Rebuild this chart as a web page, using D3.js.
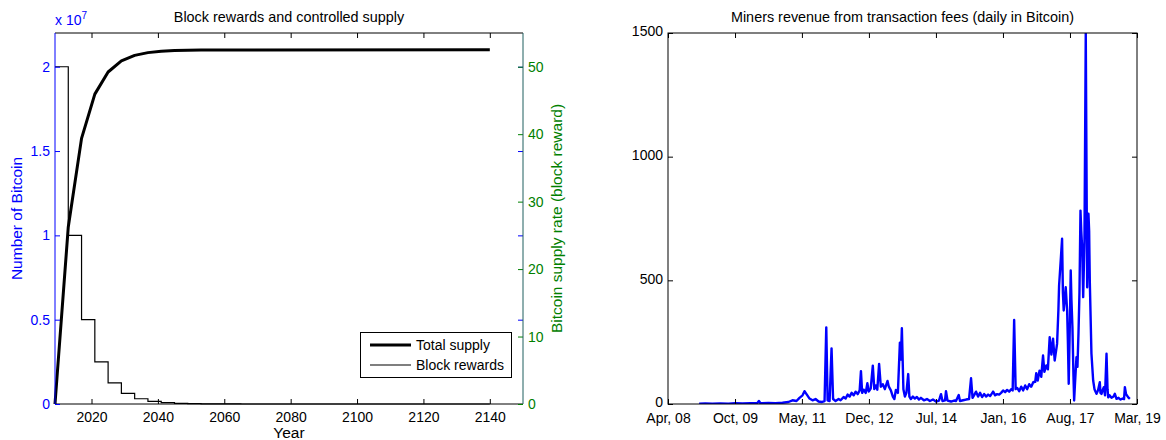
<!DOCTYPE html>
<html><head><meta charset="utf-8">
<script src="https://cdn.jsdelivr.net/npm/d3@7"></script>
<style>body{margin:0;background:#fff;} text{font-family:"Liberation Sans",Arial,Helvetica,sans-serif;}</style>
</head><body><svg id="c" width="1166" height="440"></svg>
<script>
// ---------- Left chart data ----------
const supplyYears = [2009, 2013, 2017, 2021, 2025, 2029, 2033, 2037, 2041, 2045, 2049, 2053, 2057, 2061, 2065, 2140];
const totalSupply = [0, 10500000, 15750000, 18375000, 19687500, 20343750, 20671875, 20835937.5, 20917968.75, 20958984.38, 20979492.19, 20989746.09, 20994873.05, 20997436.52, 20998718.26, 21000000];
const rewardYears = [2009, 2013, 2017, 2021, 2025, 2029, 2033, 2037, 2041, 2045, 2049, 2053, 2057, 2061, 2065, 2140];
const blockRewards = [50, 25, 12.5, 6.25, 3.125, 1.5625, 0.78125, 0.390625, 0.1953125, 0.09765625, 0.048828125, 0.0244140625, 0.01220703125, 0.006103515625, 0.0030517578125, 0.0030517578125];
const yearTicks = [2020, 2040, 2060, 2080, 2100, 2120, 2140];
const supplyTicks = [0, 5000000, 10000000, 15000000, 20000000];
const supplyTickLabels = ["0", "0.5", "1", "1.5", "2"];
const rateTicks = [0, 10, 20, 30, 40, 50];

// ---------- Right chart data ----------
const feeYears = [2008.977, 2009.117, 2009.282, 2009.469, 2009.657, 2009.821, 2009.985, 2010.172, 2010.337, 2010.372, 2010.407, 2010.594, 2010.759, 2010.923, 2011.063, 2011.157, 2011.251, 2011.321, 2011.392, 2011.438, 2011.485, 2011.556, 2011.626, 2011.696, 2011.767, 2011.837, 2011.907, 2011.947, 2011.978, 2012.025, 2012.071, 2012.107, 2012.165, 2012.236, 2012.282, 2012.353, 2012.400, 2012.447, 2012.493, 2012.540, 2012.587, 2012.634, 2012.681, 2012.728, 2012.758, 2012.786, 2012.822, 2012.869, 2012.908, 2012.939, 2012.986, 2013.033, 2013.068, 2013.103, 2013.138, 2013.180, 2013.220, 2013.267, 2013.314, 2013.377, 2013.408, 2013.455, 2013.501, 2013.537, 2013.572, 2013.619, 2013.666, 2013.689, 2013.712, 2013.748, 2013.783, 2013.818, 2013.860, 2013.888, 2013.923, 2013.970, 2014.017, 2014.064, 2014.111, 2014.158, 2014.228, 2014.299, 2014.369, 2014.439, 2014.510, 2014.580, 2014.627, 2014.662, 2014.721, 2014.744, 2014.779, 2014.861, 2014.932, 2014.978, 2015.042, 2015.072, 2015.143, 2015.213, 2015.283, 2015.330, 2015.365, 2015.400, 2015.447, 2015.494, 2015.541, 2015.588, 2015.635, 2015.682, 2015.729, 2015.776, 2015.846, 2015.893, 2015.940, 2015.987, 2016.033, 2016.080, 2016.127, 2016.174, 2016.221, 2016.268, 2016.303, 2016.338, 2016.373, 2016.409, 2016.455, 2016.502, 2016.549, 2016.596, 2016.643, 2016.690, 2016.737, 2016.784, 2016.831, 2016.854, 2016.889, 2016.931, 2016.971, 2017.011, 2017.042, 2017.088, 2017.124, 2017.166, 2017.206, 2017.245, 2017.283, 2017.339, 2017.370, 2017.386, 2017.424, 2017.456, 2017.475, 2017.494, 2017.541, 2017.574, 2017.592, 2017.611, 2017.635, 2017.658, 2017.675, 2017.698, 2017.721, 2017.738, 2017.757, 2017.792, 2017.815, 2017.839, 2017.862, 2017.886, 2017.904, 2017.925, 2017.949, 2017.979, 2018.010, 2018.043, 2018.073, 2018.089, 2018.104, 2018.143, 2018.183, 2018.214, 2018.261, 2018.296, 2018.338, 2018.354, 2018.378, 2018.401, 2018.432, 2018.460, 2018.495, 2018.519, 2018.535, 2018.565, 2018.612, 2018.659, 2018.690, 2018.729, 2018.776, 2018.823, 2018.870, 2018.905, 2018.924, 2018.952, 2019.004, 2019.041];
const feeValues = [1, 2, 1, 2, 1, 3, 2, 3, 4, 12, 3, 4, 3, 5, 8, 15, 12, 25, 35, 52, 40, 22, 15, 20, 10, 8, 12, 310, 15, 12, 225, 20, 12, 20, 15, 28, 22, 38, 30, 45, 35, 50, 40, 55, 133, 45, 58, 45, 84, 50, 62, 155, 60, 75, 58, 162, 70, 80, 60, 93, 70, 55, 30, 20, 57, 45, 248, 180, 306, 60, 30, 45, 121, 30, 20, 30, 22, 28, 18, 25, 15, 20, 12, 18, 10, 14, 40, 12, 15, 52, 14, 10, 14, 12, 36, 12, 15, 18, 20, 104, 25, 35, 50, 30, 45, 28, 40, 30, 38, 32, 50, 35, 40, 38, 45, 55, 48, 57, 50, 60, 55, 340, 60, 65, 52, 70, 55, 75, 60, 80, 70, 88, 90, 125, 95, 135, 110, 196, 130, 156, 140, 270, 200, 264, 176, 243, 380, 479, 580, 668, 450, 378, 472, 378, 250, 82, 300, 540, 420, 310, 120, 14, 80, 189, 150, 284, 450, 782, 700, 634, 432, 661, 1500, 472, 769, 700, 499, 203, 95, 60, 41, 55, 88, 45, 41, 55, 68, 35, 203, 60, 27, 35, 25, 30, 41, 21, 25, 18, 22, 20, 68, 40, 27, 21];
const feeTickDates = ["2008-04-01", "2009-10-25", "2011-05-19", "2012-12-11", "2014-07-06", "2016-01-29", "2017-08-23", "2019-03-18"];
const feeTickLabels = ["Apr, 08", "Oct, 09", "May, 11", "Dec, 12", "Jul, 14", "Jan, 16", "Aug, 17", "Mar, 19"];
const feeYTicks = [0, 500, 1000, 1500];

// ---------- Drawing ----------
const svg = d3.select("#c");
const BLUE = "#0000ff", GREEN = "#008000";
const FS = 14, FT = 14.4, FL = 15.5;
const PT = 33, PB = 404;
const FONT = "Liberation Sans, Arial, sans-serif";

// ===== Left chart =====
const L = {x0: 55, x1: 523};
const xL = d3.scaleLinear([2009, 2150], [L.x0, L.x1]);
const ySup = d3.scaleLinear([0, 22000000], [PB, PT]);
const yRate = d3.scaleLinear([0, 55], [PB, PT]);

const gl = svg.append("g");
gl.append("path")
  .datum(rewardYears.map((y, i) => [y, blockRewards[i]]))
  .attr("fill", "none").attr("stroke", "#000").attr("stroke-width", 1.2)
  .attr("d", d3.line().x(d => xL(d[0])).y(d => yRate(d[1])).curve(d3.curveStepAfter));
gl.append("path")
  .datum(supplyYears.map((y, i) => [y, totalSupply[i]]))
  .attr("fill", "none").attr("stroke", "#000").attr("stroke-width", 3).attr("stroke-linejoin", "round")
  .attr("d", d3.line().x(d => xL(d[0])).y(d => ySup(d[1])));

const axB = gl.append("g").attr("transform", `translate(0,${PB})`)
  .call(d3.axisBottom(xL).tickValues(yearTicks).tickFormat(d3.format("d")).tickSizeInner(-5).tickSizeOuter(0).tickPadding(8));
const axT = gl.append("g").attr("transform", `translate(0,${PT})`)
  .call(d3.axisTop(xL).tickValues(yearTicks).tickFormat("").tickSizeInner(-5).tickSizeOuter(0));
[axB, axT].forEach(a => { a.select(".domain").remove(); a.selectAll("line").attr("stroke", "#000"); });
axB.selectAll("text").attr("font-size", FS).attr("fill", "#000").attr("font-family", FONT);
gl.append("line").attr("x1", L.x0).attr("x2", L.x1).attr("y1", PB).attr("y2", PB).attr("stroke", "#000");
gl.append("line").attr("x1", L.x0).attr("x2", L.x1).attr("y1", PT).attr("y2", PT).attr("stroke", "#000");

const axYL = gl.append("g").attr("transform", `translate(${L.x0},0)`)
  .call(d3.axisLeft(ySup).tickValues(supplyTicks).tickFormat((d, i) => supplyTickLabels[i]).tickSizeInner(-5).tickSizeOuter(0).tickPadding(5));
axYL.select(".domain").remove();
axYL.selectAll("line").attr("stroke", BLUE);
axYL.selectAll("text").attr("fill", BLUE).attr("font-size", FS).attr("font-family", FONT);
const axYLr = gl.append("g").attr("transform", `translate(${L.x1},0)`)
  .call(d3.axisRight(ySup).tickValues(supplyTicks).tickFormat("").tickSizeInner(-5).tickSizeOuter(0));
axYLr.select(".domain").remove();
axYLr.selectAll("line").attr("stroke", BLUE);
gl.append("line").attr("x1", L.x0).attr("x2", L.x0).attr("y1", PT).attr("y2", PB).attr("stroke", BLUE);

const axYR = gl.append("g").attr("transform", `translate(${L.x1},0)`)
  .call(d3.axisRight(yRate).tickValues(rateTicks).tickFormat(d3.format("d")).tickSizeInner(-5).tickSizeOuter(0).tickPadding(5));
axYR.select(".domain").remove();
axYR.selectAll("line").attr("stroke", GREEN);
axYR.selectAll("text").attr("fill", GREEN).attr("font-size", FS).attr("font-family", FONT);
gl.append("line").attr("x1", L.x1).attr("x2", L.x1).attr("y1", PT).attr("y2", PB).attr("stroke", "#1f5f5f");

const ex = gl.append("text").attr("x", L.x0).attr("y", 25).attr("fill", BLUE).attr("font-size", FS);
ex.append("tspan").text("x 10");
ex.append("tspan").text("7").attr("font-size", 10).attr("dy", -6);

gl.append("text").attr("x", (L.x0 + L.x1) / 2).attr("y", 22).attr("text-anchor", "middle").attr("font-size", FT).text("Block rewards and controlled supply");
gl.append("text").attr("x", (L.x0 + L.x1) / 2).attr("y", 438).attr("text-anchor", "middle").attr("font-size", FL).text("Year");
gl.append("text").attr("transform", `translate(22,${(PT + PB) / 2}) rotate(-90)`).attr("text-anchor", "middle").attr("fill", BLUE).attr("font-size", FL).text("Number of Bitcoin");
gl.append("text").attr("transform", `translate(562,${(PT + PB) / 2}) rotate(-90)`).attr("text-anchor", "middle").attr("fill", GREEN).attr("font-size", FL).text("Bitcoin supply rate (block reward)");

const lg = gl.append("g");
lg.append("rect").attr("x", 360.5).attr("y", 332.5).attr("width", 151).attr("height", 45).attr("fill", "#fff").attr("stroke", "#000");
lg.append("line").attr("x1", 370).attr("x2", 411).attr("y1", 345).attr("y2", 345).attr("stroke", "#000").attr("stroke-width", 3);
lg.append("line").attr("x1", 370).attr("x2", 411).attr("y1", 365).attr("y2", 365).attr("stroke", "#000").attr("stroke-width", 1.2);
lg.append("text").attr("x", 416).attr("y", 350).attr("font-size", FS).text("Total supply");
lg.append("text").attr("x", 416).attr("y", 370).attr("font-size", FS).text("Block rewards");

// ===== Right chart =====
const R = {x0: 668, x1: 1137};
const parse = d3.utcParse("%Y-%m-%d");
const yearToDate = y => { const yr = Math.floor(y); const start = Date.UTC(yr, 0, 1); return new Date(start + (y - yr) * 365.25 * 86400000); };
const xR = d3.scaleUtc([parse(feeTickDates[0]), parse(feeTickDates[feeTickDates.length - 1])], [R.x0, R.x1]);
const yFee = d3.scaleLinear([0, 1500], [PB, PT]);

const gr = svg.append("g");
gr.append("defs").append("clipPath").attr("id", "clipR").append("rect")
  .attr("x", R.x0).attr("y", PT).attr("width", R.x1 - R.x0).attr("height", PB - PT);
gr.append("path")
  .datum(feeYears.map((y, i) => [yearToDate(y), feeValues[i]]))
  .attr("clip-path", "url(#clipR)")
  .attr("fill", "none").attr("stroke", BLUE).attr("stroke-width", 2.4).attr("stroke-linejoin", "round")
  .attr("d", d3.line().x(d => xR(d[0])).y(d => yFee(d[1])));

const tickDates = feeTickDates.map(parse);
const rB = gr.append("g").attr("transform", `translate(0,${PB})`)
  .call(d3.axisBottom(xR).tickValues(tickDates).tickFormat((d, i) => feeTickLabels[i]).tickSizeInner(-5).tickSizeOuter(0).tickPadding(9));
const rT = gr.append("g").attr("transform", `translate(0,${PT})`)
  .call(d3.axisTop(xR).tickValues(tickDates).tickFormat("").tickSizeInner(-5).tickSizeOuter(0));
const rL = gr.append("g").attr("transform", `translate(${R.x0},0)`)
  .call(d3.axisLeft(yFee).tickValues(feeYTicks).tickFormat(d3.format("d")).tickSizeInner(-5).tickSizeOuter(0).tickPadding(5));
const rR = gr.append("g").attr("transform", `translate(${R.x1},0)`)
  .call(d3.axisRight(yFee).tickValues(feeYTicks).tickFormat("").tickSizeInner(-5).tickSizeOuter(0));
[rB, rT, rL, rR].forEach(a => { a.select(".domain").remove(); a.selectAll("line").attr("stroke", "#000"); a.selectAll("text").attr("fill", "#000").attr("font-size", FS).attr("font-family", FONT); });
rL.selectAll("text").attr("dy", "0.2em");
gr.append("rect").attr("x", R.x0).attr("y", PT).attr("width", R.x1 - R.x0).attr("height", PB - PT).attr("fill", "none").attr("stroke", "#000");
gr.append("text").attr("x", (R.x0 + R.x1) / 2).attr("y", 22).attr("text-anchor", "middle").attr("font-size", FT).text("Miners revenue from transaction fees (daily in Bitcoin)");
</script></body></html>
